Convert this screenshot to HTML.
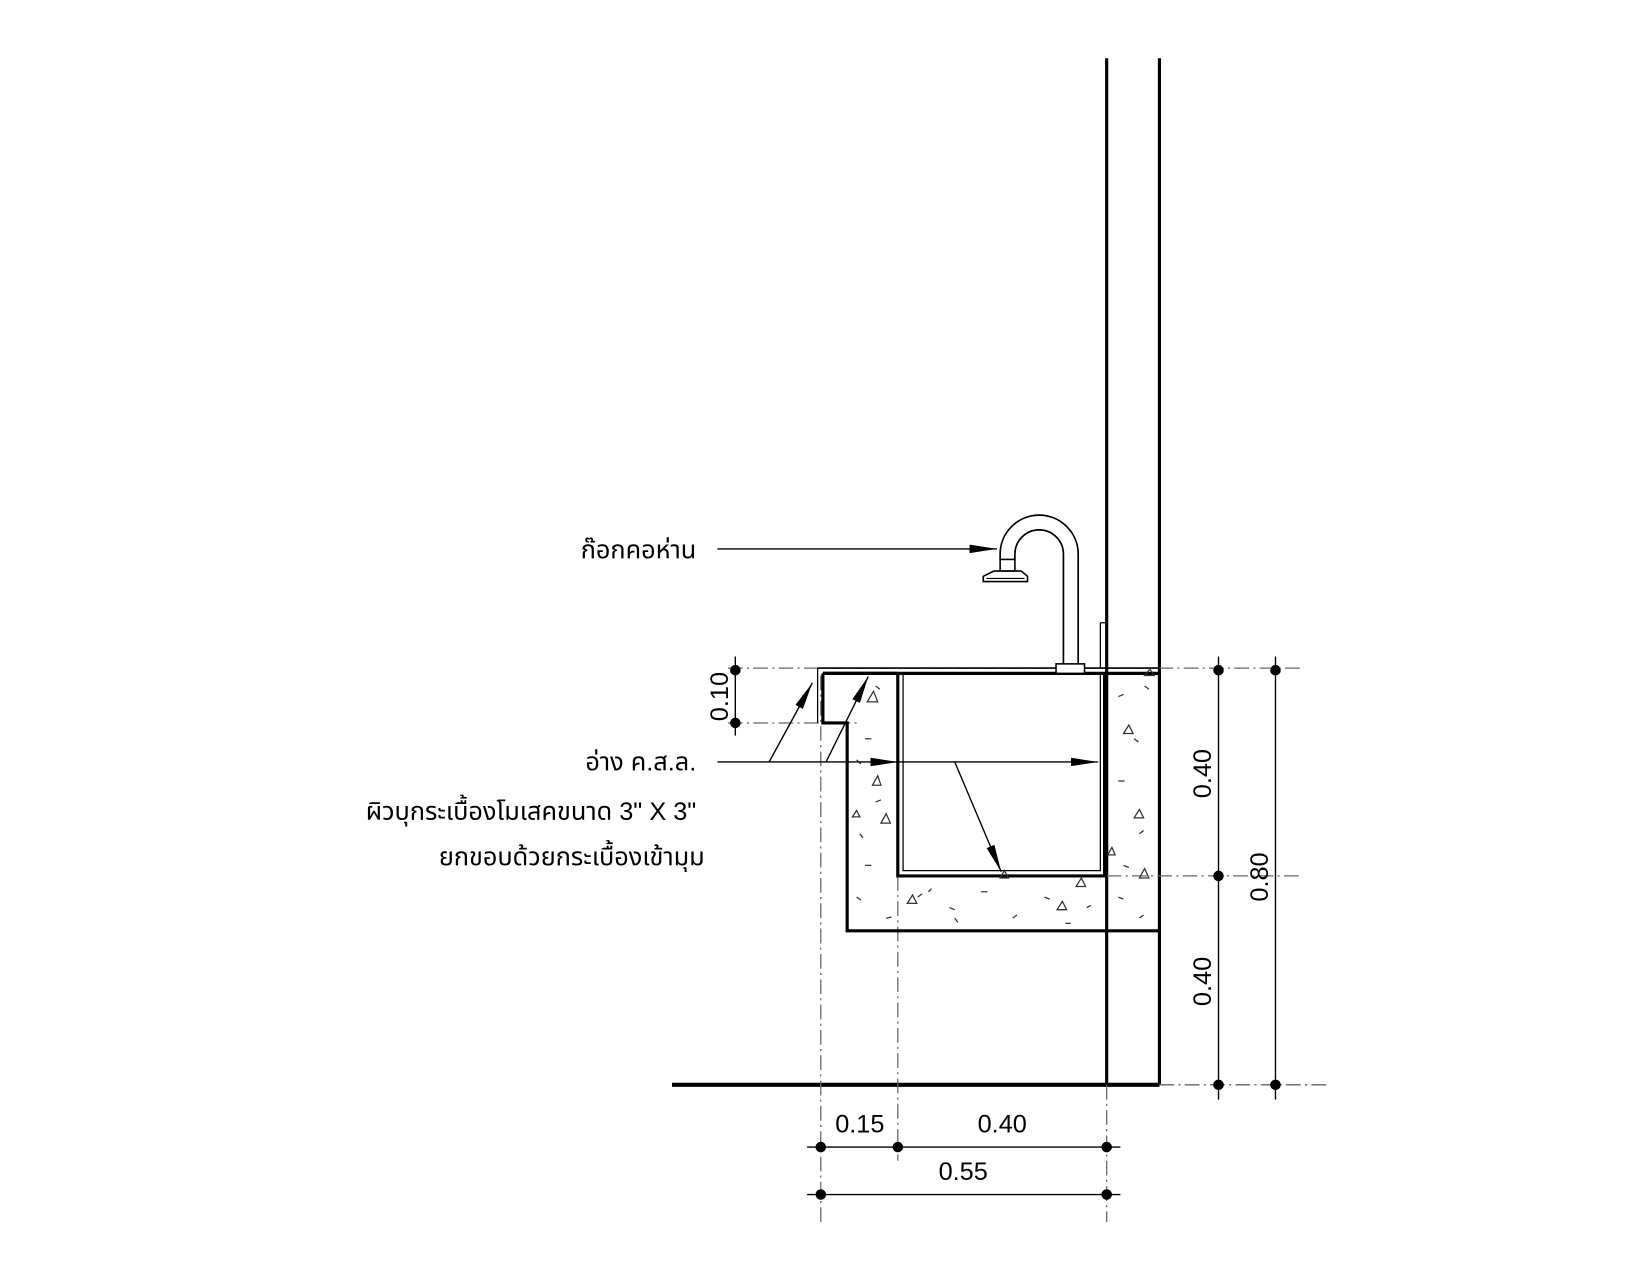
<!DOCTYPE html>
<html><head><meta charset="utf-8"><style>
html,body{margin:0;padding:0;background:#fff;}
svg{display:block;}
text{font-family:"Liberation Sans","Noto Sans Thai","Loma","Garuda","DejaVu Sans",sans-serif;fill:#000;}
</style></head><body>
<svg width="1650" height="1275" viewBox="0 0 1564 1208" xmlns="http://www.w3.org/2000/svg">
<defs>
<marker id="ar" viewBox="0 0 26 10" refX="26" refY="5" markerWidth="26" markerHeight="10" markerUnits="userSpaceOnUse" orient="auto"><path d="M0,1 L26,5 L0,9 z" fill="#000"/></marker>
</defs>
<rect width="1564" height="1208" fill="#fff"/>
<g stroke="#000" fill="none">
<line x1="1049" y1="55" x2="1049" y2="1028" stroke-width="3"/>
<line x1="1099" y1="55" x2="1099" y2="1028" stroke-width="3"/>
<line x1="1043" y1="590" x2="1043" y2="633" stroke-width="1.2"/>
<line x1="1043" y1="590" x2="1049" y2="590" stroke-width="1.2"/>
<line x1="637" y1="1028" x2="1099" y2="1028" stroke-width="4"/>
<g stroke="#666" stroke-width="1.2" stroke-dasharray="14 4 2 4">
<line x1="690" y1="633" x2="1235" y2="633"/>
<line x1="690" y1="685" x2="812" y2="685"/>
<line x1="1049" y1="830" x2="1235" y2="830"/>
<line x1="1099" y1="1028" x2="1258" y2="1028"/>
<line x1="778" y1="640" x2="778" y2="1158"/>
<line x1="851" y1="830" x2="851" y2="1100"/>
<line x1="1049" y1="1028" x2="1049" y2="1158"/>
</g>
<line x1="775" y1="633" x2="1099" y2="633" stroke-width="1.5"/>
<line x1="780" y1="638" x2="1099" y2="638" stroke-width="3"/>
<line x1="775" y1="633" x2="775" y2="685" stroke-width="1.2"/>
<polyline points="780,638 780,685 803,685 803,882 1099,882" stroke-width="3"/>
<line x1="780" y1="638" x2="851" y2="638" stroke-width="3"/>
<polyline points="851,638 851,830 1047,830 1047,638" stroke-width="3"/>
<polyline points="856,638 856,825 1043,825 1043,638" stroke-width="1.2"/>
<!-- faucet -->
<rect x="1001" y="629" width="27" height="9" stroke-width="1.5" fill="#fff"/>
<path d="M1008,629 L1008,525 A23,23 0 0 0 962,525 L962,530 M1022,629 L1022,525 A37,37 0 0 0 948,525 L948,530" stroke-width="1.6"/>
<rect x="948" y="530" width="14" height="11" stroke-width="1.5" fill="#fff"/>
<path d="M942,541 L968,541 L974,546 L974,551 L932,551 L932,546 Z" stroke-width="1.5" fill="#fff"/>
<line x1="935" y1="548" x2="971" y2="548" stroke-width="1"/>
<g stroke-width="1.2" stroke="#333">
<path d="M810,660 l5,-2 M830,650 l4,3 M820,700 l6,0 M812,720 l4,4 M830,760 l5,-2 M815,790 l3,4 M820,820 l6,0 M812,850 l4,3 M840,870 l5,-1 M870,850 l4,-3 M900,860 l5,2 M930,845 l6,0 M960,870 l4,-3 M990,850 l5,2 M1030,860 l4,-2 M1060,850 l5,2 M1080,870 l4,-3 M1060,660 l5,-2 M1075,700 l4,3 M1060,740 l6,0 M1080,790 l4,-3 M1065,820 l5,2 M1085,650 l4,3 M905,870 l3,4 M1010,875 l5,0 M880,845 l3,-3"/>
<path d="M822,665 l6,-10 l4,10 z M827,744 l5,-9 l3,9 z M835,780 l5,-9 l4,9 z M860,856 l5,-8 l4,8 z M948,832 l4,-7 l4,7 z M1002,862 l5,-8 l4,8 z M1020,840 l5,-8 l4,8 z M1080,832 l5,-9 l4,9 z M1065,695 l5,-8 l4,8 z M1075,775 l5,-8 l4,8 z M1050,810 l4,-7 l3,7 z M1085,640 l5,-6 l4,6 z M808,774 l4,-6 l3,6 z"/>
</g>
<g stroke-width="1.3">
<line x1="680" y1="520" x2="945" y2="520" marker-end="url(#ar)"/>
<line x1="680" y1="722" x2="851" y2="722" marker-end="url(#ar)"/>
<line x1="851" y1="722" x2="1041" y2="722" marker-end="url(#ar)"/>
<line x1="905" y1="722" x2="949" y2="826" marker-end="url(#ar)"/>
<line x1="729" y1="722" x2="770" y2="647" marker-end="url(#ar)"/>
<line x1="783" y1="722" x2="823" y2="641" marker-end="url(#ar)"/>
</g>
<g stroke-width="1.3">
<line x1="697" y1="622" x2="697" y2="697"/>
<line x1="1155" y1="622" x2="1155" y2="1042"/>
<line x1="1209" y1="622" x2="1209" y2="1042"/>
<line x1="765" y1="1087" x2="1062" y2="1087"/>
<line x1="765" y1="1132" x2="1062" y2="1132"/>
</g>
</g>
<g fill="#000">
<circle cx="697" cy="635" r="5"/><circle cx="697" cy="685" r="5"/>
<circle cx="1155" cy="635" r="5"/><circle cx="1155" cy="830" r="5"/><circle cx="1155" cy="1028" r="5"/>
<circle cx="1209" cy="635" r="5"/><circle cx="1209" cy="1028" r="5"/>
<circle cx="778" cy="1087" r="5"/><circle cx="851" cy="1087" r="5"/><circle cx="1049" cy="1087" r="5"/>
<circle cx="778" cy="1132" r="5"/><circle cx="1049" cy="1132" r="5"/>
</g>
<g font-size="24">
<text x="682" y="668" transform="rotate(-90 682 660)" text-anchor="middle">0.10</text>
<text x="1140" y="741" transform="rotate(-90 1140 733)" text-anchor="middle">0.40</text>
<text x="1140" y="938" transform="rotate(-90 1140 930)" text-anchor="middle">0.40</text>
<text x="1194" y="839" transform="rotate(-90 1194 831)" text-anchor="middle">0.80</text>
<text x="815" y="1073" text-anchor="middle">0.15</text>
<text x="950" y="1073" text-anchor="middle">0.40</text>
<text x="913" y="1118" text-anchor="middle">0.55</text>
<text x="660" y="529" text-anchor="end">ก๊อกคอห่าน</text>
<text x="660" y="730" text-anchor="end">อ่าง ค.ส.ล.</text>
<text x="660" y="777" text-anchor="end">ผิวบุกระเบื้องโมเสคขนาด 3" X 3"</text>
<text x="668" y="820" text-anchor="end">ยกขอบด้วยกระเบื้องเข้ามุม</text>
</g>
</svg>
</body></html>
